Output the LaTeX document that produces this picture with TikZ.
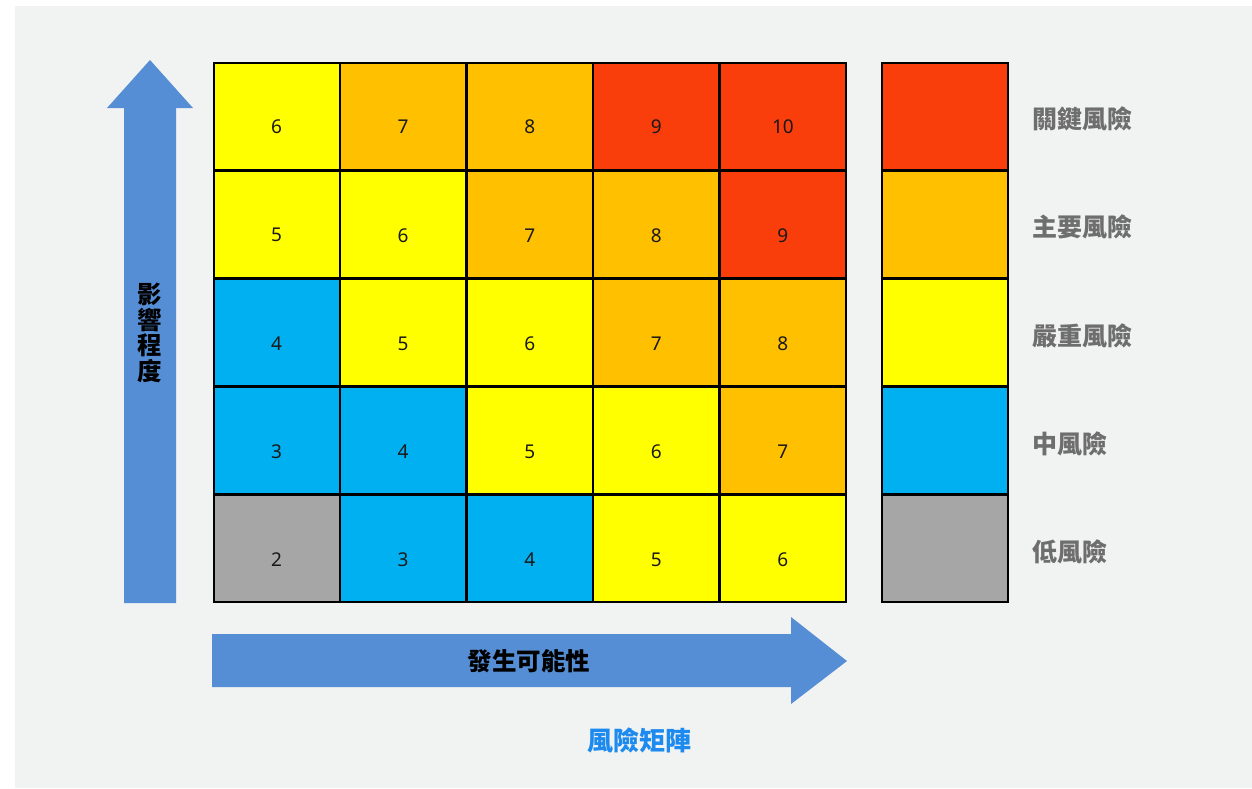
\documentclass[tikz,border=0pt]{standalone}
\usepackage{fontspec}
\setmainfont{Noto Sans}
\newfontfamily\cjk{Noto Sans CJK TC}
\definecolor{bgc}{HTML}{F1F3F2}
\definecolor{ryel}{HTML}{FFFF00}
\definecolor{rora}{HTML}{FFC000}
\definecolor{rred}{HTML}{F93E0C}
\definecolor{rblu}{HTML}{00B0F0}
\definecolor{rgry}{HTML}{A6A6A6}
\definecolor{arrc}{HTML}{558ED5}
\definecolor{titc}{HTML}{1C8AEE}
\definecolor{labc}{HTML}{6E6E6E}
\tikzset{
  cell/.style={draw=black, line width=2pt, inner sep=0pt, minimum width=126pt, minimum height=107.4pt, anchor=north west},
  num/.style={font=\fontsize{19}{19}\selectfont, text=black!90},
  lab/.style={font=\cjk\bfseries\fontsize{25}{25}\selectfont, text=labc, anchor=west},
  axl/.style={font=\cjk\bfseries\fontsize{24.5}{24.5}\selectfont, text=black},
}
\begin{document}
\begin{tikzpicture}[x=1pt,y=-1pt]
\useasboundingbox (0,0) rectangle (1252,788);
\fill[white] (0,0) rectangle (1252,788);
\fill[bgc] (15,6) rectangle (1252,788);
% arrows
\fill[arrc] (124,603) -- (124,108) -- (107,108) -- (150,60) -- (193,108) -- (176,108) -- (176,603) -- cycle;
\fill[arrc] (212,634) -- (791,634) -- (791,617) -- (847,661) -- (791,704) -- (791,687) -- (212,687) -- cycle;
\node[axl, align=center, inner sep=0pt, font=\cjk\bfseries\fontsize{24.5}{25.5}\selectfont] (yl) at (150,333) {影\\響\\程\\度};
\node[axl] (xl) at (529,661) {發生可能性};
\node[font=\cjk\bfseries\fontsize{26}{26}\selectfont, text=titc] (title) at (639,740) {風險矩陣};
% grid
\foreach \r/\vals in {0/{6,7,8,9,10},1/{5,6,7,8,9},2/{4,5,6,7,8},3/{3,4,5,6,7},4/{2,3,4,5,6}}{
  \foreach \v [count=\c from 0] in \vals {
    \ifnum\v<3 \def\cc{rgry}\else\ifnum\v<5 \def\cc{rblu}\else\ifnum\v<7 \def\cc{ryel}\else\ifnum\v<9 \def\cc{rora}\else\def\cc{rred}\fi\fi\fi\fi
    \node[cell, fill=\cc] (c\r\c) at (212.5+126.6*\c, 61.5+108.1*\r) {};
    \node[num] (n\r\c) at ([yshift=-11pt]c\r\c.center) {\v};
  }
}
% legend
\foreach \r/\cc/\t in {0/rred/關鍵風險,1/rora/主要風險,2/ryel/嚴重風險,3/rblu/中風險,4/rgry/低風險}{
  \node[cell, fill=\cc] (g\r) at (880.5, 61.5+108.1*\r) {};
  \node[lab] (l\r) at ([xshift=20pt,yshift=-3pt]g\r.east) {\t};
}
\end{tikzpicture}
\end{document}
